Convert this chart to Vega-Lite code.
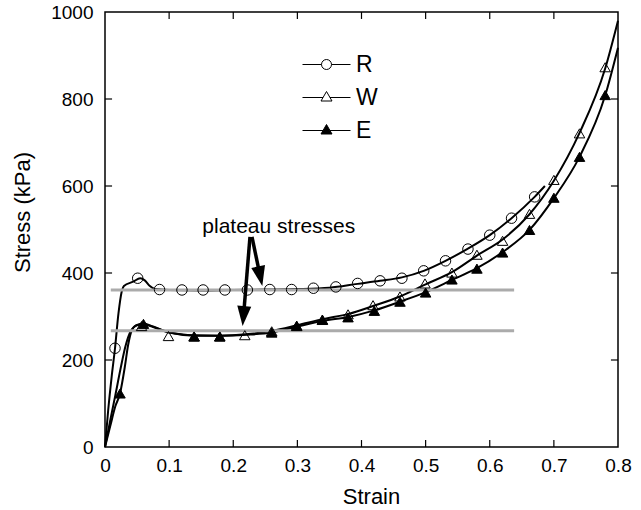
{
  "$schema": "https://vega.github.io/schema/vega-lite/v6.json",
  "width": 513,
  "height": 435,
  "autosize": "none",
  "padding": {"left": 105, "top": 12, "right": 23, "bottom": 63},
  "background": "white",
  "config": {
    "view": {"stroke": "black", "strokeWidth": 1.5},
    "font": "Liberation Sans",
    "axis": {
      "domain": false,
      "ticks": false,
      "grid": false,
      "labelFont": "Liberation Sans",
      "labelFontSize": 19,
      "labelColor": "black",
      "titleFont": "Liberation Sans",
      "titleFontSize": 22,
      "titleFontWeight": "normal",
      "titleColor": "black"
    }
  },
  "datasets": {
    "curves": [
      {"series": "R", "strain": 0, "stress": 0},
      {"series": "R", "strain": 0.005, "stress": 85},
      {"series": "R", "strain": 0.0104, "stress": 162},
      {"series": "R", "strain": 0.0156, "stress": 227},
      {"series": "R", "strain": 0.021, "stress": 307},
      {"series": "R", "strain": 0.026, "stress": 357},
      {"series": "R", "strain": 0.0295, "stress": 370},
      {"series": "R", "strain": 0.044, "stress": 380},
      {"series": "R", "strain": 0.055, "stress": 388},
      {"series": "R", "strain": 0.062, "stress": 383},
      {"series": "R", "strain": 0.07, "stress": 370},
      {"series": "R", "strain": 0.078, "stress": 363},
      {"series": "R", "strain": 0.1, "stress": 361},
      {"series": "R", "strain": 0.15, "stress": 360},
      {"series": "R", "strain": 0.2, "stress": 361},
      {"series": "R", "strain": 0.25, "stress": 362},
      {"series": "R", "strain": 0.3, "stress": 363},
      {"series": "R", "strain": 0.35, "stress": 366},
      {"series": "R", "strain": 0.394, "stress": 375},
      {"series": "R", "strain": 0.429, "stress": 382},
      {"series": "R", "strain": 0.463, "stress": 390},
      {"series": "R", "strain": 0.497, "stress": 405},
      {"series": "R", "strain": 0.531, "stress": 428},
      {"series": "R", "strain": 0.566, "stress": 456},
      {"series": "R", "strain": 0.6, "stress": 487},
      {"series": "R", "strain": 0.634, "stress": 526},
      {"series": "R", "strain": 0.67, "stress": 575},
      {"series": "R", "strain": 0.686, "stress": 600},
      {"series": "W", "strain": 0, "stress": 0},
      {"series": "W", "strain": 0.008, "stress": 60},
      {"series": "W", "strain": 0.016, "stress": 118},
      {"series": "W", "strain": 0.024, "stress": 178},
      {"series": "W", "strain": 0.032, "stress": 232},
      {"series": "W", "strain": 0.04, "stress": 266},
      {"series": "W", "strain": 0.05, "stress": 280},
      {"series": "W", "strain": 0.06, "stress": 282},
      {"series": "W", "strain": 0.075, "stress": 276},
      {"series": "W", "strain": 0.1, "stress": 263},
      {"series": "W", "strain": 0.14, "stress": 256},
      {"series": "W", "strain": 0.18, "stress": 256},
      {"series": "W", "strain": 0.22, "stress": 259},
      {"series": "W", "strain": 0.26, "stress": 267},
      {"series": "W", "strain": 0.3, "stress": 280},
      {"series": "W", "strain": 0.34, "stress": 294},
      {"series": "W", "strain": 0.38, "stress": 306},
      {"series": "W", "strain": 0.418, "stress": 324},
      {"series": "W", "strain": 0.46, "stress": 346},
      {"series": "W", "strain": 0.5, "stress": 374},
      {"series": "W", "strain": 0.541, "stress": 402},
      {"series": "W", "strain": 0.58, "stress": 440},
      {"series": "W", "strain": 0.62, "stress": 477},
      {"series": "W", "strain": 0.662, "stress": 535},
      {"series": "W", "strain": 0.7, "stress": 612},
      {"series": "W", "strain": 0.74, "stress": 722},
      {"series": "W", "strain": 0.78, "stress": 870},
      {"series": "W", "strain": 0.8, "stress": 980},
      {"series": "E", "strain": 0, "stress": 0},
      {"series": "E", "strain": 0.008, "stress": 47},
      {"series": "E", "strain": 0.016, "stress": 93},
      {"series": "E", "strain": 0.0234, "stress": 123},
      {"series": "E", "strain": 0.031, "stress": 185},
      {"series": "E", "strain": 0.036, "stress": 234},
      {"series": "E", "strain": 0.042, "stress": 269},
      {"series": "E", "strain": 0.049, "stress": 280},
      {"series": "E", "strain": 0.06, "stress": 284},
      {"series": "E", "strain": 0.075, "stress": 277},
      {"series": "E", "strain": 0.1, "stress": 264},
      {"series": "E", "strain": 0.14, "stress": 257},
      {"series": "E", "strain": 0.18, "stress": 256},
      {"series": "E", "strain": 0.22, "stress": 258},
      {"series": "E", "strain": 0.26, "stress": 263},
      {"series": "E", "strain": 0.3, "stress": 277},
      {"series": "E", "strain": 0.34, "stress": 290},
      {"series": "E", "strain": 0.38, "stress": 299},
      {"series": "E", "strain": 0.42, "stress": 314},
      {"series": "E", "strain": 0.46, "stress": 334},
      {"series": "E", "strain": 0.5, "stress": 356},
      {"series": "E", "strain": 0.541, "stress": 384},
      {"series": "E", "strain": 0.58, "stress": 411},
      {"series": "E", "strain": 0.62, "stress": 448},
      {"series": "E", "strain": 0.662, "stress": 499},
      {"series": "E", "strain": 0.7, "stress": 572},
      {"series": "E", "strain": 0.74, "stress": 667},
      {"series": "E", "strain": 0.78, "stress": 808},
      {"series": "E", "strain": 0.8, "stress": 918}
    ],
    "markers": [
      {"series": "R", "strain": 0.0156, "stress": 227},
      {"series": "R", "strain": 0.051, "stress": 388},
      {"series": "R", "strain": 0.085, "stress": 362},
      {"series": "R", "strain": 0.12, "stress": 361},
      {"series": "R", "strain": 0.153, "stress": 361},
      {"series": "R", "strain": 0.187, "stress": 361},
      {"series": "R", "strain": 0.222, "stress": 361},
      {"series": "R", "strain": 0.257, "stress": 362},
      {"series": "R", "strain": 0.291, "stress": 362},
      {"series": "R", "strain": 0.325, "stress": 365},
      {"series": "R", "strain": 0.36, "stress": 368},
      {"series": "R", "strain": 0.394, "stress": 376},
      {"series": "R", "strain": 0.429, "stress": 382},
      {"series": "R", "strain": 0.463, "stress": 388},
      {"series": "R", "strain": 0.497, "stress": 405},
      {"series": "R", "strain": 0.531, "stress": 428},
      {"series": "R", "strain": 0.566, "stress": 455},
      {"series": "R", "strain": 0.6, "stress": 487},
      {"series": "R", "strain": 0.634, "stress": 526},
      {"series": "R", "strain": 0.67, "stress": 575},
      {"series": "W", "strain": 0.057, "stress": 278},
      {"series": "W", "strain": 0.099, "stress": 255},
      {"series": "W", "strain": 0.139, "stress": 254},
      {"series": "W", "strain": 0.179, "stress": 254},
      {"series": "W", "strain": 0.218, "stress": 257},
      {"series": "W", "strain": 0.26, "stress": 266},
      {"series": "W", "strain": 0.299, "stress": 279},
      {"series": "W", "strain": 0.339, "stress": 293},
      {"series": "W", "strain": 0.379, "stress": 305},
      {"series": "W", "strain": 0.418, "stress": 326},
      {"series": "W", "strain": 0.46, "stress": 346},
      {"series": "W", "strain": 0.499, "stress": 376},
      {"series": "W", "strain": 0.541, "stress": 401},
      {"series": "W", "strain": 0.58, "stress": 442},
      {"series": "W", "strain": 0.62, "stress": 474},
      {"series": "W", "strain": 0.662, "stress": 536},
      {"series": "W", "strain": 0.7, "stress": 614},
      {"series": "W", "strain": 0.74, "stress": 721},
      {"series": "W", "strain": 0.78, "stress": 873},
      {"series": "E", "strain": 0.0234, "stress": 123},
      {"series": "E", "strain": 0.06, "stress": 283},
      {"series": "E", "strain": 0.139, "stress": 254},
      {"series": "E", "strain": 0.179, "stress": 254},
      {"series": "E", "strain": 0.26, "stress": 263},
      {"series": "E", "strain": 0.299, "stress": 278},
      {"series": "E", "strain": 0.339, "stress": 292},
      {"series": "E", "strain": 0.379, "stress": 298},
      {"series": "E", "strain": 0.42, "stress": 313},
      {"series": "E", "strain": 0.46, "stress": 334},
      {"series": "E", "strain": 0.5, "stress": 355},
      {"series": "E", "strain": 0.541, "stress": 385},
      {"series": "E", "strain": 0.58, "stress": 410},
      {"series": "E", "strain": 0.62, "stress": 447},
      {"series": "E", "strain": 0.662, "stress": 499},
      {"series": "E", "strain": 0.7, "stress": 573},
      {"series": "E", "strain": 0.74, "stress": 667},
      {"series": "E", "strain": 0.78, "stress": 809}
    ],
    "plateau": [
      {"level": "R", "strain": 0.009, "strain2": 0.638, "stress": 361},
      {"level": "W/E", "strain": 0.009, "strain2": 0.638, "stress": 267}
    ],
    "shafts": [
      {"arrow": "lower", "strain": 0.2261, "stress": 483},
      {"arrow": "lower", "strain": 0.2168, "stress": 315},
      {"arrow": "upper", "strain": 0.2292, "stress": 483},
      {"arrow": "upper", "strain": 0.2401, "stress": 406}
    ],
    "heads": [
      {"arrow": "lower", "strain": 0.2146, "stress": 278},
      {"arrow": "upper", "strain": 0.2453, "stress": 370}
    ],
    "notes": [
      {"label": "plateau stresses", "strain": 0.271, "stress": 491}
    ],
    "xticks": [
      {"strain": 0.1}, {"strain": 0.2}, {"strain": 0.3}, {"strain": 0.4},
      {"strain": 0.5}, {"strain": 0.6}, {"strain": 0.7}
    ],
    "yticks": [
      {"stress": 200}, {"stress": 400}, {"stress": 600}, {"stress": 800}
    ]
  },
  "layer": [
    {
      "data": {"name": "curves"},
      "mark": {"type": "line", "color": "black", "strokeWidth": 2, "interpolate": "monotone"},
      "encoding": {
        "x": {
          "field": "strain", "type": "quantitative",
          "scale": {"domain": [0, 0.8], "nice": false, "zero": false},
          "axis": {
            "orient": "bottom",
            "values": [0, 0.1, 0.2, 0.3, 0.4, 0.5, 0.6, 0.7, 0.8],
            "format": "~g",
            "labelPadding": 9,
            "labelFlush": false,
            "title": "Strain",
            "titleX": 266,
            "titleY": 56,
            "titleBaseline": "alphabetic"
          }
        },
        "y": {
          "field": "stress", "type": "quantitative",
          "scale": {"domain": [0, 1000], "nice": false},
          "axis": {
            "orient": "left",
            "values": [0, 200, 400, 600, 800, 1000],
            "format": "d",
            "labelPadding": 12,
            "labelFlush": false,
            "title": "Stress (kPa)",
            "titleX": -76,
            "titleY": 200,
            "titleAngle": -90,
            "titleBaseline": "alphabetic"
          }
        },
        "detail": {"field": "series", "type": "nominal"}
      }
    },
    {
      "data": {"name": "xticks"},
      "mark": {"type": "rule", "color": "black", "strokeWidth": 1.2},
      "encoding": {
        "x": {"field": "strain", "type": "quantitative"},
        "y": {"datum": 0, "type": "quantitative"},
        "y2": {"datum": 16}
      }
    },
    {
      "data": {"name": "xticks"},
      "mark": {"type": "rule", "color": "black", "strokeWidth": 1.2},
      "encoding": {
        "x": {"field": "strain", "type": "quantitative"},
        "y": {"datum": 1000, "type": "quantitative"},
        "y2": {"datum": 984}
      }
    },
    {
      "data": {"name": "yticks"},
      "mark": {"type": "rule", "color": "black", "strokeWidth": 1.2},
      "encoding": {
        "y": {"field": "stress", "type": "quantitative"},
        "x": {"datum": 0, "type": "quantitative"},
        "x2": {"datum": 0.011}
      }
    },
    {
      "data": {"name": "yticks"},
      "mark": {"type": "rule", "color": "black", "strokeWidth": 1.2},
      "encoding": {
        "y": {"field": "stress", "type": "quantitative"},
        "x": {"datum": 0.8, "type": "quantitative"},
        "x2": {"datum": 0.789}
      }
    },
    {
      "data": {"name": "plateau"},
      "mark": {"type": "rule", "color": "#ababab", "strokeWidth": 3},
      "encoding": {
        "x": {"field": "strain", "type": "quantitative"},
        "x2": {"field": "strain2"},
        "y": {"field": "stress", "type": "quantitative"}
      }
    },
    {
      "data": {"name": "markers"},
      "mark": {"type": "point", "stroke": "black", "strokeWidth": 1, "opacity": 1, "size": 110},
      "encoding": {
        "x": {"field": "strain", "type": "quantitative"},
        "y": {"field": "stress", "type": "quantitative"},
        "shape": {
          "field": "series", "type": "nominal",
          "scale": {"domain": ["R", "W", "E"], "range": ["circle", "triangle-up", "triangle-up"]},
          "legend": null
        },
        "fill": {
          "field": "series", "type": "nominal",
          "scale": {"domain": ["R", "W", "E"], "range": ["transparent", "transparent", "black"]},
          "legend": null
        }
      }
    },
    {
      "data": {"name": "markers"},
      "transform": [{"filter": "false"}],
      "mark": {"type": "point", "filled": true, "strokeWidth": 1, "opacity": 1},
      "encoding": {
        "shape": {
          "field": "series", "type": "nominal",
          "scale": {
            "domain": ["R", "W", "E"],
            "range": [
              "M-4.8,0H-1M1,0H4.8M1,0A1,1,0,1,1,-1,0A1,1,0,1,1,1,0Z",
              "M-4.8,0H-0.7M0.7,0H4.8M0,-1.2L1.1,0.7L-1.1,0.7Z",
              "M-4.8,0H-0.7M0.7,0H4.8M0,-1.2L1.1,0.7L-1.1,0.7Z"
            ]
          },
          "legend": {
            "orient": "none", "legendX": 210, "legendY": 41, "title": null, "padding": 0,
            "labelFont": "Liberation Sans", "labelFontSize": 23, "labelColor": "black",
            "symbolSize": 100, "symbolStrokeWidth": 1, "rowPadding": 9, "labelOffset": 18
          }
        },
        "fill": {
          "field": "series", "type": "nominal",
          "scale": {"domain": ["R", "W", "E"], "range": ["white", "white", "black"]},
          "legend": {
            "orient": "none", "legendX": 210, "legendY": 41, "title": null, "padding": 0,
            "labelFont": "Liberation Sans", "labelFontSize": 23, "labelColor": "black",
            "symbolSize": 100, "symbolStrokeWidth": 1, "rowPadding": 9, "labelOffset": 18
          }
        },
        "stroke": {
          "field": "series", "type": "nominal",
          "scale": {"domain": ["R", "W", "E"], "range": ["black", "black", "black"]},
          "legend": {
            "orient": "none", "legendX": 210, "legendY": 41, "title": null, "padding": 0,
            "labelFont": "Liberation Sans", "labelFontSize": 23, "labelColor": "black",
            "symbolSize": 100, "symbolStrokeWidth": 1, "rowPadding": 9, "labelOffset": 18
          }
        }
      }
    },
    {
      "data": {"name": "shafts"},
      "mark": {"type": "line", "color": "black", "strokeWidth": 3.5},
      "encoding": {
        "x": {"field": "strain", "type": "quantitative"},
        "y": {"field": "stress", "type": "quantitative"},
        "detail": {"field": "arrow", "type": "nominal"}
      }
    },
    {
      "data": {"name": "heads"},
      "transform": [{"filter": "datum.arrow === 'lower'"}],
      "mark": {"type": "point", "shape": "M0,0L-0.7,-2L0.7,-2Z", "filled": true, "color": "black", "opacity": 1, "size": 400, "angle": 4.7},
      "encoding": {
        "x": {"field": "strain", "type": "quantitative"},
        "y": {"field": "stress", "type": "quantitative"}
      }
    },
    {
      "data": {"name": "heads"},
      "transform": [{"filter": "datum.arrow === 'upper'"}],
      "mark": {"type": "point", "shape": "M0,0L-0.7,-2L0.7,-2Z", "filled": true, "color": "black", "opacity": 1, "size": 400, "angle": 348},
      "encoding": {
        "x": {"field": "strain", "type": "quantitative"},
        "y": {"field": "stress", "type": "quantitative"}
      }
    },
    {
      "data": {"name": "notes"},
      "mark": {"type": "text", "font": "Liberation Sans", "fontSize": 21, "color": "black", "align": "center", "baseline": "alphabetic"},
      "encoding": {
        "x": {"field": "strain", "type": "quantitative"},
        "y": {"field": "stress", "type": "quantitative"},
        "text": {"field": "label"}
      }
    }
  ],
  "resolve": {"scale": {"shape": "independent", "fill": "independent", "stroke": "independent"}}
}
